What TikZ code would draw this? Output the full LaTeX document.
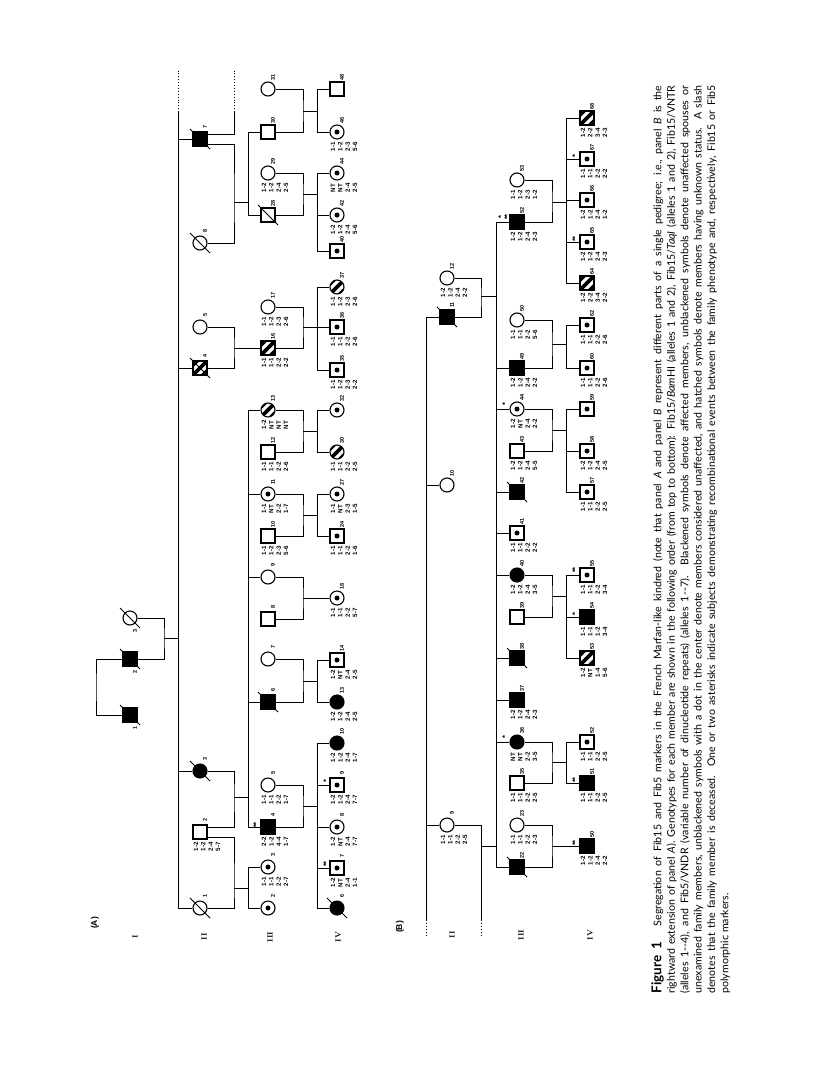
\documentclass[tikz,border=0pt]{standalone}
\usepackage{fontspec}
\setsansfont{Liberation Sans}
\newfontfamily\capfont{Lato}
\begin{document}
\begin{tikzpicture}[
    x=1pt, y=-1pt, line width=0.9pt,
    sym/.style={draw, line width=1.1pt, minimum size=14pt, inner sep=0pt, fill=white},
    male/.style={sym, rectangle},
    fem/.style={sym, circle},
    aff/.style={fill=black},
    dot/.style={path picture={\fill[black] (path picture bounding box.center) circle (2.5pt);}},
    hatch/.style={path picture={\foreach \d in {-10pt,0pt,10pt}
        \draw[black, line width=3.6pt] ([shift={(\d-10pt,-10pt)}]path picture bounding box.center)
          -- ([shift={(\d+10pt,10pt)}]path picture bounding box.center);}},
    dec/.style={append after command={([shift={(-10pt,10pt)}]\tikzlastnode.center)
        edge[line width=1pt] ([shift={(10pt,-10pt)}]\tikzlastnode.center)}},
    xmark/.style={append after command={(\tikzlastnode.north east)
        edge[line width=1pt] (\tikzlastnode.south west)}},
    num/.style={font=\sffamily\bfseries\fontsize{5.5}{5.5}\selectfont, rotate=90, inner sep=0pt},
    geno/.style={font=\sffamily\bfseries\fontsize{6.2}{7.3}\selectfont, rotate=90,
        align=center, inner sep=0pt, anchor=east},
    ast/.style={font=\sffamily\bfseries\fontsize{7.5}{4}\selectfont, rotate=90,
        align=center, inner sep=0pt},
    gen/.style={font=\rmfamily\bfseries\fontsize{7.5}{7.5}\selectfont, rotate=90, inner sep=0pt},
    panel/.style={font=\sffamily\bfseries\fontsize{8.5}{8.5}\selectfont, rotate=90, inner sep=0pt},
    captext/.style={font=\capfont\fontsize{10.6}{13.4}\selectfont, rotate=90, text width=908pt,
        align=justify, inner sep=0pt, anchor=north west}
]
\fill[white] (0,0) rectangle (816,1081);
\useasboundingbox (0,0) rectangle (816,1081);

% Panel A labels
\node[panel] (pA) at (95,923) {(A)};
\node[gen] (gAI) at (135,937) {I};
\node[gen] (gAII) at (204,937) {II};
\node[gen] (gAIII) at (270,937) {III};
\node[gen] (gAIV) at (338,937) {IV};

% Panel A, generation I
\node[fem,dec] (aI3) at (130,618) {};
\node[male,aff,dec] (aI2) at (130,659) {};
\node[male,aff,dec] (aI1) at (130,715) {};
\node[num] (aI3n) at ([shift={(5,13)}]aI3) {3};
\node[num] (aI2n) at ([shift={(5,13)}]aI2) {2};
\node[num] (aI1n) at ([shift={(5,13)}]aI1) {1};

% Panel A, generation II
\node[male,aff,dec] (aII7) at (200,139) {};
\node[fem,dec] (aII8) at (200,243) {};
\node[fem] (aII5) at (200,327) {};
\node[male,hatch,dec,xmark] (aII4) at (200,368) {};
\node[fem,aff,dec] (aII3) at (200,771) {};
\node[male] (aII2) at (200,832) {};
\node[fem,dec] (aII1) at (200,908) {};
\node[num] (aII7n) at ([shift={(5,-12)}]aII7) {7};
\node[num] (aII8n) at ([shift={(5,-12)}]aII8) {8};
\node[num] (aII5n) at ([shift={(5,-12)}]aII5) {5};
\node[num] (aII4n) at ([shift={(5,-12)}]aII4) {4};
\node[num] (aII3n) at ([shift={(5,-12)}]aII3) {3};
\node[num] (aII2n) at ([shift={(5,-12)}]aII2) {2};
\node[num] (aII1n) at ([shift={(5,-12)}]aII1) {1};
\node[geno] (aII2g) at ([shift={(7,10)}]aII2) {1-2\\1-2\\2-4\\5-7};

% Panel A, generation III
\node[fem] (aIII31) at (268,89) {};
\node[male] (aIII30) at (268,132) {};
\node[fem] (aIII29) at (268,173) {};
\node[male,dec] (aIII28) at (268,215) {};
\node[fem] (aIII17) at (268,307) {};
\node[male,hatch] (aIII16) at (268,348) {};
\node[fem,hatch] (aIII13) at (268,410) {};
\node[male] (aIII12) at (268,452) {};
\node[fem,dot] (aIII11) at (268,494) {};
\node[male] (aIII10) at (268,536) {};
\node[fem] (aIII9) at (268,577) {};
\node[male] (aIII8) at (268,619) {};
\node[fem] (aIII7) at (268,659) {};
\node[male,aff,dec] (aIII6) at (268,702) {};
\node[fem] (aIII5) at (268,785) {};
\node[male,aff] (aIII4) at (268,827) {};
\node[fem,dot] (aIII3) at (268,867) {};
\node[fem,dot] (aIII2) at (268,908) {};
\node[num] (aIII31n) at ([shift={(5,-12)}]aIII31) {31};
\node[num] (aIII30n) at ([shift={(5,-12)}]aIII30) {30};
\node[num] (aIII29n) at ([shift={(5,-12)}]aIII29) {29};
\node[num] (aIII28n) at ([shift={(5,-12)}]aIII28) {28};
\node[num] (aIII17n) at ([shift={(5,-12)}]aIII17) {17};
\node[num] (aIII16n) at ([shift={(5,-12)}]aIII16) {16};
\node[num] (aIII13n) at ([shift={(5,-12)}]aIII13) {13};
\node[num] (aIII12n) at ([shift={(5,-12)}]aIII12) {12};
\node[num] (aIII11n) at ([shift={(5,-12)}]aIII11) {11};
\node[num] (aIII10n) at ([shift={(5,-12)}]aIII10) {10};
\node[num] (aIII9n) at ([shift={(5,-12)}]aIII9) {9};
\node[num] (aIII8n) at ([shift={(5,-12)}]aIII8) {8};
\node[num] (aIII7n) at ([shift={(5,-12)}]aIII7) {7};
\node[num] (aIII6n) at ([shift={(5,-12)}]aIII6) {6};
\node[num] (aIII5n) at ([shift={(5,-12)}]aIII5) {5};
\node[num] (aIII4n) at ([shift={(5,-12)}]aIII4) {4};
\node[num] (aIII3n) at ([shift={(5,-12)}]aIII3) {3};
\node[num] (aIII2n) at ([shift={(5,-12)}]aIII2) {2};
\node[ast] (aIII4s) at ([shift={(-12,-2)}]aIII4) {**};
\node[geno] (aIII29g) at ([shift={(7,10)}]aIII29) {1-2\\1-2\\2-4\\2-5};
\node[geno] (aIII17g) at ([shift={(7,10)}]aIII17) {1-1\\1-2\\2-3\\2-6};
\node[geno] (aIII16g) at ([shift={(7,10)}]aIII16) {1-1\\1-1\\2-2\\2-2};
\node[geno] (aIII13g) at ([shift={(7,10)}]aIII13) {1-2\\NT\\NT\\NT};
\node[geno] (aIII12g) at ([shift={(7,10)}]aIII12) {1-1\\1-1\\2-2\\2-6};
\node[geno] (aIII11g) at ([shift={(7,10)}]aIII11) {1-1\\NT\\2-2\\1-7};
\node[geno] (aIII10g) at ([shift={(7,10)}]aIII10) {1-1\\1-2\\2-3\\5-6};
\node[geno] (aIII5g) at ([shift={(7,10)}]aIII5) {1-1\\1-1\\2-2\\1-7};
\node[geno] (aIII4g) at ([shift={(7,10)}]aIII4) {2-2\\1-2\\4-4\\1-7};
\node[geno] (aIII3g) at ([shift={(7,10)}]aIII3) {1-1\\1-1\\2-2\\2-7};

% Panel A, generation IV
\node[male] (aIV48) at (337,89) {};
\node[fem,dot] (aIV46) at (337,132) {};
\node[fem,dot] (aIV44) at (337,173) {};
\node[fem,dot] (aIV42) at (337,215) {};
\node[male,dot] (aIV40) at (337,251) {};
\node[fem,hatch] (aIV37) at (337,287) {};
\node[male,dot] (aIV36) at (337,327) {};
\node[male,dot] (aIV35) at (337,370) {};
\node[fem,dot] (aIV32) at (337,410) {};
\node[fem,hatch] (aIV30) at (337,452) {};
\node[fem,dot] (aIV27) at (337,494) {};
\node[male,dot] (aIV24) at (337,536) {};
\node[fem,dot] (aIV18) at (337,598) {};
\node[male,dot] (aIV14) at (337,660) {};
\node[fem,aff] (aIV13) at (337,702) {};
\node[fem,aff] (aIV10) at (337,743) {};
\node[male,dot] (aIV9) at (337,785) {};
\node[fem,dot] (aIV8) at (337,827) {};
\node[male,dot] (aIV7) at (337,868) {};
\node[fem,aff,dec] (aIV6) at (337,908) {};
\node[num] (aIV48n) at ([shift={(5,-12)}]aIV48) {48};
\node[num] (aIV46n) at ([shift={(5,-12)}]aIV46) {46};
\node[num] (aIV44n) at ([shift={(5,-12)}]aIV44) {44};
\node[num] (aIV42n) at ([shift={(5,-12)}]aIV42) {42};
\node[num] (aIV40n) at ([shift={(5,-12)}]aIV40) {40};
\node[num] (aIV37n) at ([shift={(5,-12)}]aIV37) {37};
\node[num] (aIV36n) at ([shift={(5,-12)}]aIV36) {36};
\node[num] (aIV35n) at ([shift={(5,-12)}]aIV35) {35};
\node[num] (aIV32n) at ([shift={(5,-12)}]aIV32) {32};
\node[num] (aIV30n) at ([shift={(5,-12)}]aIV30) {30};
\node[num] (aIV27n) at ([shift={(5,-12)}]aIV27) {27};
\node[num] (aIV24n) at ([shift={(5,-12)}]aIV24) {24};
\node[num] (aIV18n) at ([shift={(5,-12)}]aIV18) {18};
\node[num] (aIV14n) at ([shift={(5,-12)}]aIV14) {14};
\node[num] (aIV13n) at ([shift={(5,-12)}]aIV13) {13};
\node[num] (aIV10n) at ([shift={(5,-12)}]aIV10) {10};
\node[num] (aIV9n) at ([shift={(5,-12)}]aIV9) {9};
\node[num] (aIV8n) at ([shift={(5,-12)}]aIV8) {8};
\node[num] (aIV7n) at ([shift={(5,-12)}]aIV7) {7};
\node[num] (aIV6n) at ([shift={(5,-12)}]aIV6) {6};
\node[ast] (aIV9s) at ([shift={(-11,-4)}]aIV9) {*};
\node[ast] (aIV7s) at ([shift={(-11,-4)}]aIV7) {**};
\node[geno] (aIV46g) at ([shift={(7,10)}]aIV46) {1-1\\1-2\\2-3\\5-6};
\node[geno] (aIV44g) at ([shift={(7,10)}]aIV44) {NT\\NT\\2-4\\2-5};
\node[geno] (aIV42g) at ([shift={(7,10)}]aIV42) {1-2\\1-2\\2-4\\5-6};
\node[geno] (aIV37g) at ([shift={(7,10)}]aIV37) {1-1\\1-2\\2-3\\2-6};
\node[geno] (aIV36g) at ([shift={(7,10)}]aIV36) {1-1\\1-1\\2-2\\2-6};
\node[geno] (aIV35g) at ([shift={(7,10)}]aIV35) {1-1\\1-2\\2-3\\2-2};
\node[geno] (aIV30g) at ([shift={(7,10)}]aIV30) {1-1\\1-1\\2-2\\2-5};
\node[geno] (aIV27g) at ([shift={(7,10)}]aIV27) {1-1\\NT\\2-3\\1-5};
\node[geno] (aIV24g) at ([shift={(7,10)}]aIV24) {1-1\\1-1\\2-2\\1-6};
\node[geno] (aIV18g) at ([shift={(7,10)}]aIV18) {1-1\\1-1\\2-2\\5-7};
\node[geno] (aIV14g) at ([shift={(7,10)}]aIV14) {1-2\\NT\\2-4\\2-5};
\node[geno] (aIV13g) at ([shift={(7,10)}]aIV13) {1-2\\1-2\\2-4\\2-5};
\node[geno] (aIV10g) at ([shift={(7,10)}]aIV10) {1-2\\1-2\\2-4\\1-7};
\node[geno] (aIV9g) at ([shift={(7,10)}]aIV9) {1-2\\1-2\\2-4\\7-7};
\node[geno] (aIV8g) at ([shift={(7,10)}]aIV8) {1-2\\NT\\2-4\\7-7};
\node[geno] (aIV7g) at ([shift={(7,10)}]aIV7) {1-2\\NT\\2-4\\1-1};

% Panel A, lines
\coordinate (aIm) at (164,638);
\coordinate (aIc) at (96,687);
\coordinate (aIIs) at (178,638);
\coordinate (aIIt) at (178,112);
\coordinate (aIIu) at (178,70);
\draw (aI3) -| (aIm) |- (aI2);
\draw (aI2) -| (aIc) |- (aI1);
\draw (aIm) -- (aIIs);
\draw (aIIs) |- (aII7);
\draw (aIIs) |- (aII4);
\draw (aIIs) |- (aII3);
\draw (aIIs) |- (aII1);
\draw (aIIs) -- (aIIt);
\draw[dotted] (aIIt) -- (aIIu);
% II-7
\coordinate (aII7t) at (234,112);
\coordinate (aII7u) at (234,70);
\coordinate (aM7) at (234,202);
\coordinate (aS7) at (248,202);
\draw ([yshift=5pt]aII7.east) -| (aII7t);
\draw[dotted] (aII7t) -- (aII7u);
\draw ([yshift=-5pt]aII7.east) -| (aM7) |- (aII8);
\draw (aM7) -- (aS7);
\draw (aS7) |- (aIII30);
\draw (aS7) |- (aIII28);
% II-4
\coordinate (aM4) at (234,348);
\draw (aII5) -| (aM4) |- (aII4);
\draw (aM4) -- (aIII16);
% II-3 and II-1
\coordinate (aM3) at (234,797);
\coordinate (aS3) at (248,797);
\coordinate (aM1) at (234,888);
\coordinate (aS1) at (248,888);
\draw (aII3) -| (aM3) |- ([yshift=5pt]aII2.east);
\draw ([yshift=-5pt]aII2.east) -| (aM1) |- (aII1);
\draw (aM3) -- (aS3);
\draw (aM1) -- (aS1);
\draw (aS3) |- (aIII13);
\draw (aS3) |- (aIII11);
\draw (aS3) |- (aIII9);
\draw (aS3) |- (aIII6);
\draw (aS3) |- (aIII4);
\draw (aS1) |- (aIII3);
\draw (aS1) |- (aIII2);
% generation III couples
\coordinate (aM30) at (303,111);
\coordinate (aS30) at (317,111);
\draw (aIII31) -| (aM30) |- (aIII30);
\draw (aM30) -- (aS30);
\draw (aS30) |- (aIV48);
\draw (aS30) |- (aIV46);
\coordinate (aM28) at (303,194);
\coordinate (aS28) at (317,194);
\draw (aIII29) -| (aM28) |- (aIII28);
\draw (aM28) -- (aS28);
\draw (aS28) |- (aIV44);
\draw (aS28) |- (aIV42);
\draw (aS28) |- (aIV40);
\coordinate (aM16) at (303,327);
\coordinate (aS16) at (317,327);
\draw (aIII17) -| (aM16) |- (aIII16);
\draw (aM16) -- (aS16);
\draw (aS16) |- (aIV37);
\draw (aS16) |- (aIV36);
\draw (aS16) |- (aIV35);
\coordinate (aM13) at (303,431);
\coordinate (aS13) at (317,431);
\draw (aIII13) -| (aM13) |- (aIII12);
\draw (aM13) -- (aS13);
\draw (aS13) |- (aIV32);
\draw (aS13) |- (aIV30);
\coordinate (aM11) at (303,515);
\coordinate (aS11) at (317,515);
\draw (aIII11) -| (aM11) |- (aIII10);
\draw (aM11) -- (aS11);
\draw (aS11) |- (aIV27);
\draw (aS11) |- (aIV24);
\coordinate (aM9) at (303,598);
\draw (aIII9) -| (aM9) |- (aIII8);
\draw (aM9) -- (aIV18);
\coordinate (aM6) at (303,681);
\coordinate (aS6) at (317,681);
\draw (aIII7) -| (aM6) |- (aIII6);
\draw (aM6) -- (aS6);
\draw (aS6) |- (aIV14);
\draw (aS6) |- (aIV13);
\coordinate (aM5) at (303,806);
\coordinate (aS5) at (317,806);
\draw (aIII5) -| (aM5) |- (aIII4);
\draw (aM5) -- (aS5);
\draw (aS5) |- (aIV10);
\draw (aS5) |- (aIV9);
\draw (aS5) |- (aIV8);
\draw (aS5) |- (aIV7);
\draw (aS5) |- (aIV6);

% Panel B labels
\node[panel] (pB) at (400,927) {(B)};
\node[gen] (gBII) at (452,935) {II};
\node[gen] (gBIII) at (521,935) {III};
\node[gen] (gBIV) at (590,935) {IV};

% Panel B, generation II
\node[fem] (bII12) at (447,278) {};
\node[male,aff,dec] (bII11) at (447,317) {};
\node[fem] (bII10) at (447,485) {};
\node[fem] (bII9) at (447,825) {};
\node[num] (bII12n) at ([shift={(5,-12)}]bII12) {12};
\node[num] (bII11n) at ([shift={(5,-12)}]bII11) {11};
\node[num] (bII10n) at ([shift={(5,-12)}]bII10) {10};
\node[num] (bII9n) at ([shift={(5,-12)}]bII9) {9};
\node[geno] (bII12g) at ([shift={(7,10)}]bII12) {1-2\\1-2\\2-4\\2-2};
\node[geno] (bII9g) at ([shift={(7,10)}]bII9) {1-1\\1-1\\2-2\\2-5};

% Panel B, generation III
\node[fem] (bIII53) at (517,180) {};
\node[male,aff] (bIII52) at (517,222) {};
\node[fem] (bIII50) at (517,320) {};
\node[male,aff] (bIII49) at (517,368) {};
\node[fem,dot] (bIII44) at (517,409) {};
\node[male] (bIII43) at (517,451) {};
\node[male,aff,dec] (bIII42) at (517,492) {};
\node[male,dot] (bIII41) at (517,533) {};
\node[fem,aff] (bIII40) at (517,575) {};
\node[male] (bIII39) at (517,617) {};
\node[male,aff,dec] (bIII38) at (517,658) {};
\node[male,aff] (bIII37) at (517,700) {};
\node[fem,aff] (bIII36) at (517,742) {};
\node[male] (bIII35) at (517,783) {};
\node[fem] (bIII23) at (517,825) {};
\node[male,aff,dec] (bIII22) at (517,867) {};
\node[num] (bIII53n) at ([shift={(5,-12)}]bIII53) {53};
\node[num] (bIII52n) at ([shift={(5,-12)}]bIII52) {52};
\node[num] (bIII50n) at ([shift={(5,-12)}]bIII50) {50};
\node[num] (bIII49n) at ([shift={(5,-12)}]bIII49) {49};
\node[num] (bIII44n) at ([shift={(5,-12)}]bIII44) {44};
\node[num] (bIII43n) at ([shift={(5,-12)}]bIII43) {43};
\node[num] (bIII42n) at ([shift={(5,-12)}]bIII42) {42};
\node[num] (bIII41n) at ([shift={(5,-12)}]bIII41) {41};
\node[num] (bIII40n) at ([shift={(5,-12)}]bIII40) {40};
\node[num] (bIII39n) at ([shift={(5,-12)}]bIII39) {39};
\node[num] (bIII38n) at ([shift={(5,-12)}]bIII38) {38};
\node[num] (bIII37n) at ([shift={(5,-12)}]bIII37) {37};
\node[num] (bIII36n) at ([shift={(5,-12)}]bIII36) {36};
\node[num] (bIII35n) at ([shift={(5,-12)}]bIII35) {35};
\node[num] (bIII23n) at ([shift={(5,-12)}]bIII23) {23};
\node[num] (bIII22n) at ([shift={(5,-12)}]bIII22) {22};
\node[ast] (bIII52s) at ([shift={(-13,-5)}]bIII52) {*\\**};
\node[ast] (bIII44s) at ([shift={(-12,-5)}]bIII44) {*};
\node[ast] (bIII36s) at ([shift={(-12,-5)}]bIII36) {*};
\node[geno] (bIII53g) at ([shift={(7,10)}]bIII53) {1-1\\1-2\\2-3\\1-2};
\node[geno] (bIII52g) at ([shift={(7,10)}]bIII52) {1-2\\1-2\\2-4\\2-3};
\node[geno] (bIII50g) at ([shift={(7,10)}]bIII50) {1-1\\1-1\\2-2\\5-6};
\node[geno] (bIII49g) at ([shift={(7,10)}]bIII49) {1-2\\1-2\\2-4\\2-2};
\node[geno] (bIII44g) at ([shift={(7,10)}]bIII44) {1-2\\NT\\2-4\\2-2};
\node[geno] (bIII43g) at ([shift={(7,10)}]bIII43) {1-2\\1-2\\2-4\\5-5};
\node[geno] (bIII41g) at ([shift={(7,10)}]bIII41) {1-1\\1-1\\2-2\\2-2};
\node[geno] (bIII40g) at ([shift={(7,10)}]bIII40) {1-2\\1-2\\2-4\\3-5};
\node[geno] (bIII37g) at ([shift={(7,10)}]bIII37) {1-2\\1-2\\2-4\\2-3};
\node[geno] (bIII36g) at ([shift={(7,10)}]bIII36) {NT\\NT\\2-2\\3-5};
\node[geno] (bIII35g) at ([shift={(7,10)}]bIII35) {1-1\\1-1\\2-2\\2-5};
\node[geno] (bIII23g) at ([shift={(7,10)}]bIII23) {1-1\\1-1\\2-2\\2-3};

% Panel B, generation IV
\node[male,hatch] (bIV68) at (587,118) {};
\node[male,dot] (bIV67) at (587,159) {};
\node[male,dot] (bIV66) at (587,200) {};
\node[male,dot] (bIV65) at (587,242) {};
\node[male,hatch] (bIV64) at (587,283) {};
\node[male,dot] (bIV62) at (587,325) {};
\node[male,dot] (bIV60) at (587,368) {};
\node[male,dot] (bIV59) at (587,409) {};
\node[male,dot] (bIV58) at (587,451) {};
\node[male,dot] (bIV57) at (587,492) {};
\node[male,dot] (bIV55) at (587,575) {};
\node[male,aff] (bIV54) at (587,617) {};
\node[male,hatch] (bIV53) at (587,658) {};
\node[male,dot] (bIV52) at (587,742) {};
\node[male,aff] (bIV51) at (587,783) {};
\node[male,aff] (bIV50) at (587,846) {};
\node[num] (bIV68n) at ([shift={(5,-12)}]bIV68) {68};
\node[num] (bIV67n) at ([shift={(5,-12)}]bIV67) {67};
\node[num] (bIV66n) at ([shift={(5,-12)}]bIV66) {66};
\node[num] (bIV65n) at ([shift={(5,-12)}]bIV65) {65};
\node[num] (bIV64n) at ([shift={(5,-12)}]bIV64) {64};
\node[num] (bIV62n) at ([shift={(5,-12)}]bIV62) {62};
\node[num] (bIV60n) at ([shift={(5,-12)}]bIV60) {60};
\node[num] (bIV59n) at ([shift={(5,-12)}]bIV59) {59};
\node[num] (bIV58n) at ([shift={(5,-12)}]bIV58) {58};
\node[num] (bIV57n) at ([shift={(5,-12)}]bIV57) {57};
\node[num] (bIV55n) at ([shift={(5,-12)}]bIV55) {55};
\node[num] (bIV54n) at ([shift={(5,-12)}]bIV54) {54};
\node[num] (bIV53n) at ([shift={(5,-12)}]bIV53) {53};
\node[num] (bIV52n) at ([shift={(5,-12)}]bIV52) {52};
\node[num] (bIV51n) at ([shift={(5,-12)}]bIV51) {51};
\node[num] (bIV50n) at ([shift={(5,-12)}]bIV50) {50};
\node[ast] (bIV67s) at ([shift={(-12,-3)}]bIV67) {*};
\node[ast] (bIV65s) at ([shift={(-12,-3)}]bIV65) {**};
\node[ast] (bIV55s) at ([shift={(-12,-5)}]bIV55) {**};
\node[ast] (bIV54s) at ([shift={(-12,-3)}]bIV54) {*};
\node[ast] (bIV51s) at ([shift={(-12,-3)}]bIV51) {**};
\node[ast] (bIV50s) at ([shift={(-12,-3)}]bIV50) {**};
\node[geno] (bIV68g) at ([shift={(7,10)}]bIV68) {1-2\\2-2\\3-4\\2-3};
\node[geno] (bIV67g) at ([shift={(7,10)}]bIV67) {1-1\\1-1\\2-2\\2-2};
\node[geno] (bIV66g) at ([shift={(7,10)}]bIV66) {1-2\\1-2\\2-4\\1-2};
\node[geno] (bIV65g) at ([shift={(7,10)}]bIV65) {1-2\\1-2\\2-4\\2-3};
\node[geno] (bIV64g) at ([shift={(7,10)}]bIV64) {1-2\\2-2\\3-4\\2-2};
\node[geno] (bIV62g) at ([shift={(7,10)}]bIV62) {1-1\\1-1\\2-2\\2-6};
\node[geno] (bIV60g) at ([shift={(7,10)}]bIV60) {1-1\\1-1\\2-2\\2-6};
\node[geno] (bIV58g) at ([shift={(7,10)}]bIV58) {1-2\\1-2\\2-4\\2-5};
\node[geno] (bIV57g) at ([shift={(7,10)}]bIV57) {1-1\\1-1\\2-2\\2-5};
\node[geno] (bIV55g) at ([shift={(7,10)}]bIV55) {1-1\\1-1\\2-2\\3-4};
\node[geno] (bIV54g) at ([shift={(7,10)}]bIV54) {1-1\\1-1\\1-2\\3-4};
\node[geno] (bIV53g) at ([shift={(7,10)}]bIV53) {1-2\\NT\\1-4\\5-6};
\node[geno] (bIV52g) at ([shift={(7,10)}]bIV52) {1-1\\1-1\\2-2\\2-5};
\node[geno] (bIV51g) at ([shift={(7,10)}]bIV51) {1-1\\1-1\\2-2\\2-5};
\node[geno] (bIV50g) at ([shift={(7,10)}]bIV50) {1-2\\1-2\\2-4\\2-2};

% Panel B, lines
\coordinate (bIIe) at (426,920);
\coordinate (bIIf) at (426,937);
\draw (bII11) -| (bIIe);
\draw[dotted] (bIIe) -- (bIIf);
\draw (bIIe) |- (bII10);
\draw (bIIe) |- (bII9);
\coordinate (bM11) at (481,296);
\coordinate (bS11) at (496,296);
\draw (bII12) -| (bM11) |- (bII11);
\draw (bM11) -- (bS11);
\coordinate (bM9) at (481,846);
\coordinate (bM9e) at (481,920);
\coordinate (bM9f) at (481,937);
\coordinate (bS9) at (496,846);
\draw (bII9) -| (bM9e);
\draw[dotted] (bM9e) -- (bM9f);
\draw (bM9) -- (bS9);
\draw (bS11) |- (bIII52);
\draw (bS11) |- (bIII49);
\draw (bS11) |- (bIII44);
\draw (bS11) |- (bIII42);
\draw (bS11) |- (bIII41);
\draw (bS11) |- (bIII40);
\draw (bS11) |- (bIII38);
\draw (bS11) |- (bIII37);
\draw (bS11) |- (bIII36);
\draw (bS11) |- (bIII22);
% generation III couples
\coordinate (bM52) at (552,202);
\coordinate (bS52) at (566,202);
\draw (bIII53) -| (bM52) |- (bIII52);
\draw (bM52) -- (bS52);
\draw (bS52) |- (bIV68);
\draw (bS52) |- (bIV67);
\draw (bS52) |- (bIV66);
\draw (bS52) |- (bIV65);
\draw (bS52) |- (bIV64);
\coordinate (bM49) at (552,344);
\coordinate (bS49) at (566,344);
\draw (bIII50) -| (bM49) |- (bIII49);
\draw (bM49) -- (bS49);
\draw (bS49) |- (bIV62);
\draw (bS49) |- (bIV60);
\coordinate (bM43) at (552,430);
\coordinate (bS43) at (566,430);
\draw (bIII44) -| (bM43) |- (bIII43);
\draw (bM43) -- (bS43);
\draw (bS43) |- (bIV59);
\draw (bS43) |- (bIV58);
\draw (bS43) |- (bIV57);
\coordinate (bM39) at (552,596);
\coordinate (bS39) at (566,596);
\draw (bIII40) -| (bM39) |- (bIII39);
\draw (bM39) -- (bS39);
\draw (bS39) |- (bIV55);
\draw (bS39) |- (bIV54);
\draw (bS39) |- (bIV53);
\coordinate (bM35) at (552,762);
\coordinate (bS35) at (566,762);
\draw (bIII36) -| (bM35) |- (bIII35);
\draw (bM35) -- (bS35);
\draw (bS35) |- (bIV52);
\draw (bS35) |- (bIV51);
\coordinate (bM22) at (552,846);
\draw (bIII23) -| (bM22) |- (bIII22);
\draw (bM22) -- (bIV50);

% Caption
\node[captext] (caption) at (651,994) {\textbf{\fontsize{13.5}{13.5}\selectfont Figure 1}\hspace{1em} Segregation of Fib15 and Fib5 markers in the French Marfan-like kindred (note that panel \textit{A} and panel \textit{B} represent different parts of a single pedigree; i.e., panel \textit{B} is the\linebreak
rightward extension of panel \textit{A}). Genotypes for each member are shown in the following order (from top to bottom): Fib15/\textit{Bam}HI (alleles 1 and 2), Fib15/\textit{TaqI} (alleles 1 and 2), Fib15/VNTR\linebreak
(alleles 1--4), and Fib5/VNDR (variable number of dinucleotide repeats) (alleles 1--7). Blackened symbols denote affected members, unblackened symbols denote unaffected spouses or\linebreak
unexamined family members, unblackened symbols with a dot in the center denote members considered unaffected, and hatched symbols denote members having unknown status. A slash\linebreak
denotes that the family member is deceased. One or two asterisks indicate subjects demonstrating recombinational events between the family phenotype and, respectively, Fib15 or Fib5\linebreak
polymorphic markers.};
\end{tikzpicture}
\end{document}
